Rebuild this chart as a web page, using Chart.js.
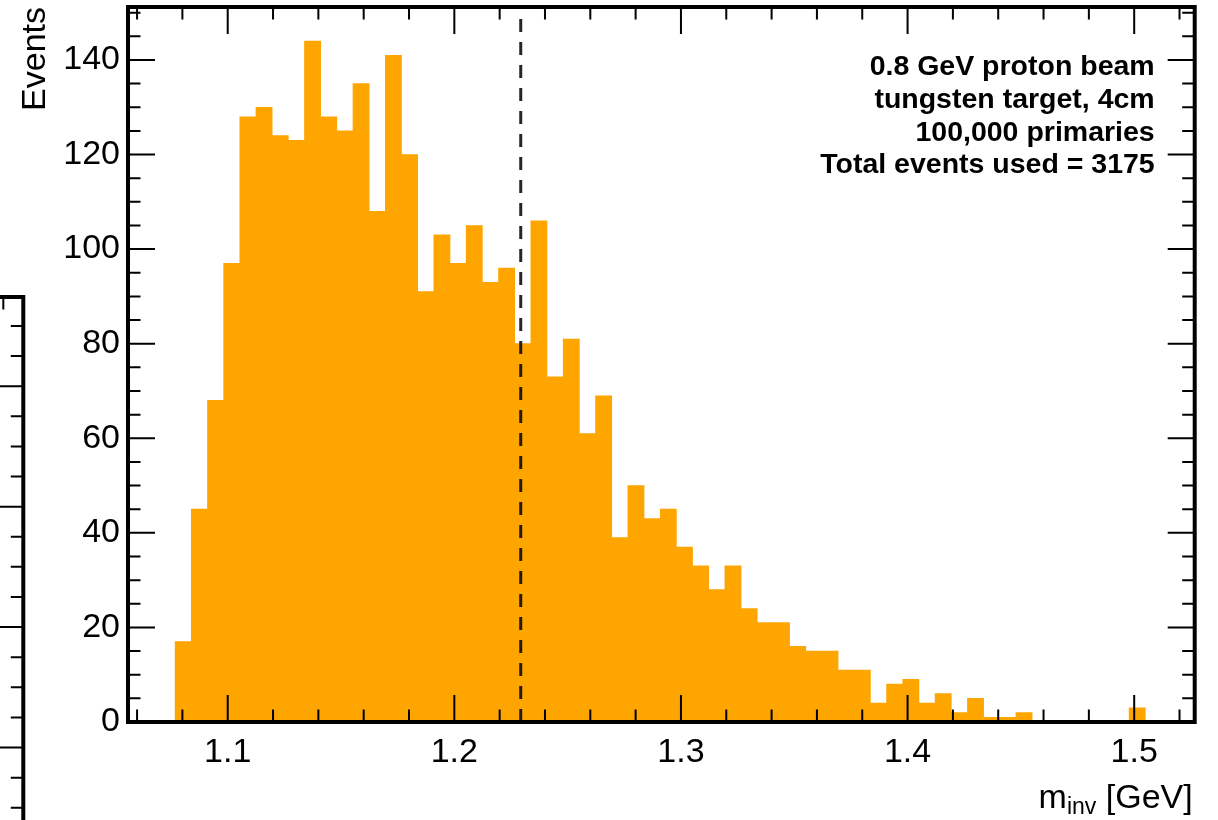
<!DOCTYPE html>
<html>
<head>
<meta charset="utf-8">
<title>Invariant mass</title>
<script src="https://cdn.jsdelivr.net/npm/chart.js@4.4.1/dist/chart.umd.min.js"></script>
<style>
    html, body { margin: 0; padding: 0; background: #fff; overflow: hidden; }
    #wrap { position: relative; width: 1218px; height: 820px; overflow: hidden; background: #fff; }
    #massChart { position: absolute; left: 0; top: 0; }
    #sideChart { position: absolute; left: -30px; top: 290px; }
</style>
</head>
<body>
<div id="wrap">
    <canvas id="sideChart" width="56" height="560"></canvas>
    <canvas id="massChart" width="1218" height="820"></canvas>
</div>
<script>
// histogram of m_inv: 60 equal bins starting at binLow
var binLow = 1.0768;
var binWidth = 0.007135;
var counts = [17, 45, 68, 97, 128, 130, 124, 123, 144, 128,
              125, 135, 108, 141, 120, 91, 103, 97, 105, 93,
              96, 80, 106, 73, 81, 61, 69, 39, 50, 43,
              45, 37, 33, 28, 33, 24, 21, 21, 16, 15,
              15, 11, 11, 4, 8, 9, 4, 6, 2, 5,
              1, 1, 2, 0, 0, 0, 0, 0, 0, 3];
var cutMass = [1.2293];

var xRange = [1.056, 1.5267];
var yRange = [0, 151.2];
var xMajorTicks = [1.1, 1.2, 1.3, 1.4, 1.5];
var yMajorTicks = [0, 20, 40, 60, 80, 100, 120, 140];
var infoLines = ['0.8 GeV proton beam', 'tungsten target, 4cm', '100,000 primaries', 'Total events used = 3175'];

// neighbouring panel, only its top right corner is in view
var sideXRange = [0, 1];
var sideYRange = [3, 94.8];
var sideXMinor = [0.625];
var sideYMajor = [20, 40, 60, 80];

var xMinorTicks = [];
for (var k = 0; k <= 23; k++) xMinorTicks.push(1.06 + 0.02 * k);
var yMinorTicks = [];
for (var m = 5; m <= 150; m += 5) yMinorTicks.push(m);
var sideYMinor = [];
for (var n = 5; n <= 90; n += 5) sideYMinor.push(n);

var fontFamily = "'Liberation Sans', Arial, Helvetica, sans-serif";

var frameTicks = {
    id: 'frameTicks',
    afterDatasetsDraw: function(chart, args, opts) {
        var ctx = chart.ctx;
        var a = chart.chartArea;
        var xs = chart.scales.x;
        var ys = chart.scales.y;
        ctx.save();
        ctx.strokeStyle = '#000';
        ctx.lineWidth = 2;
        ctx.beginPath();
        function xTicks(list, len) {
            (list || []).forEach(function(v) {
                var px = xs.getPixelForValue(v);
                ctx.moveTo(px, a.bottom);
                ctx.lineTo(px, a.bottom - len);
                ctx.moveTo(px, a.top);
                ctx.lineTo(px, a.top + len);
            });
        }
        function yTicks(list, len) {
            (list || []).forEach(function(v) {
                var py = ys.getPixelForValue(v);
                ctx.moveTo(a.left, py);
                ctx.lineTo(a.left + len, py);
                ctx.moveTo(a.right, py);
                ctx.lineTo(a.right - len, py);
            });
        }
        xTicks(opts.xMinor, 12.5);
        xTicks(opts.xMajor, 27);
        yTicks(opts.yMinor, 12.5);
        yTicks(opts.yMajor, 27);
        ctx.stroke();
        ctx.lineWidth = 4;
        ctx.strokeRect(a.left, a.top, a.right - a.left, a.bottom - a.top);
        ctx.restore();
    }
};

var annotations = {
    id: 'annotations',
    afterDraw: function(chart) {
        var ctx = chart.ctx;
        var a = chart.chartArea;
        ctx.save();
        ctx.fillStyle = '#000';
        ctx.textBaseline = 'alphabetic';
        ctx.textAlign = 'right';
        ctx.font = 'bold 28.5px ' + fontFamily;
        for (var i = 0; i < infoLines.length; i++) {
            ctx.fillText(infoLines[i], a.right - 40, a.top + 68 + i * 32.8);
        }

        // x title: m with subscript "inv"
        var big = '34px ' + fontFamily;
        var small = '23px ' + fontFamily;
        ctx.textAlign = 'left';
        ctx.font = big;
        var wM = ctx.measureText('m').width;
        var wUnit = ctx.measureText(' [GeV]').width;
        ctx.font = small;
        var wSub = ctx.measureText('inv').width;
        var x0 = a.right - 2 - (wM + wSub + wUnit);
        var base = a.bottom + 86;
        ctx.font = big;
        ctx.fillText('m', x0, base);
        ctx.font = small;
        ctx.fillText('inv', x0 + wM, base + 6);
        ctx.font = big;
        ctx.fillText(' [GeV]', x0 + wM + wSub, base);
        ctx.restore();
    }
};

var histPoints = counts.map(function(c, i) {
    return { x: binLow + binWidth * (i + 0.5), y: c };
});
var cutPoints = [
    { x: cutMass[0], y: yRange[0] },
    { x: cutMass[0], y: yRange[1] }
];

new Chart(document.getElementById('massChart'), {
    type: 'bar',
    data: {
        datasets: [{
            type: 'bar',
            data: histPoints,
            backgroundColor: '#FFA500',
            borderWidth: 0,
            barPercentage: 1.0,
            categoryPercentage: 1.0,
            order: 2
        }, {
            type: 'line',
            data: cutPoints,
            borderColor: 'rgba(0,0,0,0.85)',
            borderWidth: 3,
            borderDash: [13, 10],
            pointRadius: 0,
            fill: false,
            order: 1
        }]
    },
    options: {
        responsive: false,
        animation: false,
        devicePixelRatio: 1,
        layout: { padding: { left: 0, top: 7, right: 23.3, bottom: 0 } },
        scales: {
            x: {
                type: 'linear',
                min: xRange[0],
                max: xRange[1],
                offset: false,
                grid: { display: false, drawTicks: false },
                border: { display: false },
                ticks: {
                    color: '#000',
                    font: { family: fontFamily, size: 34 },
                    padding: 10,
                    maxRotation: 0,
                    autoSkip: false,
                    callback: function(v) { return v.toFixed(1); }
                },
                afterBuildTicks: function(scale) {
                    scale.ticks = xMajorTicks.map(function(v) { return { value: v }; });
                },
                afterFit: function(scale) {
                    scale.height = 98;
                    scale.paddingLeft = 0;
                    scale.paddingRight = 0;
                }
            },
            y: {
                min: yRange[0],
                max: yRange[1],
                grid: { display: false, drawTicks: false },
                border: { display: false },
                ticks: {
                    color: '#000',
                    font: { family: fontFamily, size: 34 },
                    padding: 8,
                    autoSkip: false
                },
                title: {
                    display: true,
                    text: 'Events',
                    align: 'end',
                    color: '#000',
                    font: { family: fontFamily, size: 34 },
                    padding: { top: 15, bottom: 0 }
                },
                afterBuildTicks: function(scale) {
                    scale.ticks = yMajorTicks.map(function(v) { return { value: v }; });
                },
                afterFit: function(scale) {
                    scale.width = 128;
                    scale.paddingTop = 0;
                    scale.paddingBottom = 0;
                }
            }
        },
        plugins: {
            legend: { display: false },
            tooltip: { enabled: false },
            frameTicks: {
                xMajor: xMajorTicks,
                xMinor: xMinorTicks,
                yMajor: yMajorTicks,
                yMinor: yMinorTicks
            }
        }
    },
    plugins: [frameTicks, annotations]
});

new Chart(document.getElementById('sideChart'), {
    type: 'scatter',
    data: { datasets: [] },
    options: {
        responsive: false,
        animation: false,
        devicePixelRatio: 1,
        layout: { padding: { left: 0, top: 7, right: 2.7, bottom: 0 } },
        scales: {
            x: { display: false, min: sideXRange[0], max: sideXRange[1] },
            y: { display: false, min: sideYRange[0], max: sideYRange[1] }
        },
        plugins: {
            legend: { display: false },
            tooltip: { enabled: false },
            frameTicks: {
                xMinor: sideXMinor,
                yMajor: sideYMajor,
                yMinor: sideYMinor
            }
        }
    },
    plugins: [frameTicks]
});
</script>
</body>
</html>
